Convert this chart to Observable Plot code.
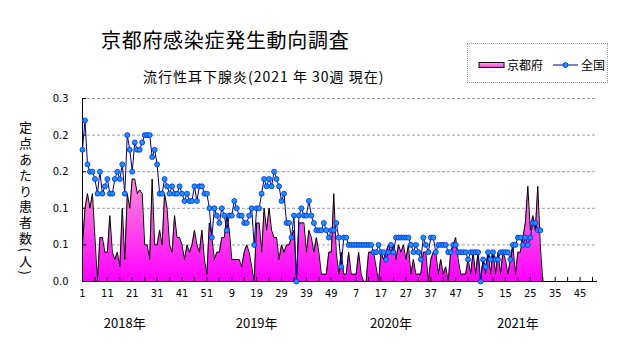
<!DOCTYPE html>
<html><head><meta charset="utf-8">
<script src="https://cdn.jsdelivr.net/npm/d3@7"></script>
<script src="https://cdn.jsdelivr.net/npm/@observablehq/plot@0.6"></script>
<style>
body{margin:0;background:#fff;}
#wrap{position:relative;width:631px;height:347px;overflow:hidden;background:#fff;font-family:"Noto Sans CJK JP",sans-serif;color:#000;}
#wrap > svg{position:absolute;left:0;top:0;}
.title{position:absolute;left:101px;top:28px;font-size:20px;letter-spacing:0.7px;line-height:24px;white-space:nowrap;}
.subtitle{position:absolute;left:143px;top:67px;font-size:14px;letter-spacing:1px;line-height:18px;white-space:nowrap;}
.ylab{position:absolute;left:18px;top:121px;writing-mode:vertical-rl;font-size:13px;letter-spacing:2.8px;line-height:15px;white-space:nowrap;}
.legend{position:absolute;left:467px;top:43px;width:141px;height:40px;border:1px dotted #999;box-sizing:border-box;}
.legend svg{position:absolute;left:0;top:0;}
</style></head>
<body>
<div id="wrap">
  <div class="title">京都府感染症発生動向調査</div>
  <div class="subtitle">流行性耳下腺炎(2021 年 30週 現在)</div>
  <div class="ylab">定点あたり患者数(人)</div>
  <div class="legend">
    <svg width="141" height="40">
      <defs><linearGradient id="lg" x1="0" y1="0" x2="0" y2="1"><stop offset="0" stop-color="#ffb0e4"/><stop offset="1" stop-color="#ff30f0"/></linearGradient></defs>
      <rect x="11" y="18.5" width="25" height="5" fill="url(#lg)" stroke="#000" stroke-width="1"/>
      <text x="39" y="25.5" font-size="12" font-family="Noto Sans CJK JP">京都府</text>
      <line x1="85" x2="110" y1="21" y2="21" stroke="#000080" stroke-width="1"/>
      <circle cx="97.5" cy="21" r="2.5" fill="#1e90ff" stroke="#0030e0" stroke-width="0.8"/>
      <text x="113" y="25.5" font-size="12" font-family="Noto Sans CJK JP">全国</text>
    </svg>
  </div>
</div>
<script>
// 京都府 定点あたり患者数 (2018 week1 .. 2021 week30)
const kyoto = [
0.05,0.10,0.12,0.10,0.12,0.06,0,0.06,0.06,0.04,
0.04,0.09,0.04,0.03,0.04,0.02,0.10,0.03,0.12,0.10,
0.14,0.14,0.12,0.125,0.12,0.05,0.05,0.03,0.14,0.05,
0.05,0.07,0.05,0.12,0.10,0.05,0.04,0.09,0.06,0.06,
0.05,0.03,0.05,0.04,0.05,0.07,0.05,0.04,0.07,0.03,
0.01,0.08,0.06,0.03,0.04,0.04,0.06,0.06,0.09,0.07,
0.03,0.03,0.03,0.03,0.02,0.04,0.05,0.04,0.02,0,
0.08,0.08,0.04,0.10,0.07,0.10,0.07,0.06,0.06,0.03,
0.05,0.04,0.05,0.05,0.06,0.07,0,0.08,0.08,0.08,
0.04,0.07,0.06,0.04,0.06,0.04,0.01,0.01,0.01,0.04,
0.04,0.12,0.04,0.01,0.04,0.01,0.01,0.04,0.01,0.01,
0.01,0.04,0.01,0,0,0.04,0.04,0.04,0.02,0,
0.04,0.03,0.04,0.05,0.04,0.05,0.03,0.05,0.04,0.05,
0.03,0.05,0.01,0.03,0.01,0.01,0.01,0.04,0.04,0,
0.03,0.04,0.04,0.01,0.03,0.01,0.02,0,0.04,0.05,
0.06,0.03,0.01,0.01,0.01,0.03,0.01,0.04,0.01,0.04,
0,0.03,0.01,0.04,0.01,0.04,0.01,0.04,0.01,0.04,
0.03,0.01,0.03,0.05,0.01,0.04,0.04,0.06,0.08,0.13,
0.07,0.09,0.07,0.13,0.05,0
];
// 全国 定点あたり患者数
const zenkoku = [
0.18,0.22,0.16,0.15,0.15,0.14,0.12,0.15,0.12,0.13,
0.14,0.12,0.12,0.14,0.15,0.14,0.16,0.12,0.20,0.18,
0.15,0.19,0.18,0.18,0.19,0.20,0.20,0.20,0.17,0.18,
0.16,0.12,0.12,0.14,0.13,0.12,0.13,0.12,0.12,0.13,
0.12,0.11,0.12,0.11,0.11,0.13,0.11,0.13,0.13,0.12,
0.12,0.10,0.06,0.10,0.09,0.08,0.10,0.09,0.07,0.09,
0.09,0.11,0.10,0.09,0.09,0.08,0.08,0.09,0.10,0.05,
0.10,0.10,0.12,0.14,0.13,0.14,0.13,0.15,0.14,0.13,
0.11,0.12,0.08,0.08,0.06,0.09,0,0.09,0.10,0.09,
0.09,0.11,0.09,0.08,0.07,0.07,0.07,0.08,0.07,0.06,
0.07,0.07,0.08,0.06,0.02,0.06,0.06,0.05,0.05,0.05,
0.05,0.05,0.05,0.05,0.05,0.05,0.05,0.04,0.04,0.05,
0.04,0.04,0.03,0.04,0.05,0.04,0.06,0.06,0.06,0.06,
0.06,0.06,0.05,0.04,0.05,0.04,0.03,0.06,0.05,0.04,
0.06,0.06,0.04,0.05,0.05,0.05,0.05,0.04,0.04,0.05,
0.05,0.04,0.04,0.04,0.04,0.03,0.04,0.04,0.04,0.04,
0,0.03,0.02,0.04,0.03,0.04,0.03,0.03,0.04,0.04,
0.04,0.04,0.03,0.05,0.05,0.06,0.06,0.05,0.06,0.05,
0.06,0.08,0.08,0.07,0.07
];
const totalWeeks = 208;
const weekTickLabels = ["1","11","21","31","41","51","9","19","29","39","49","7","17","27","37","47","5","15","25","35","45"];
const yTickValues = [0, 0.05, 0.10, 0.15, 0.20, 0.25];
const yTickLabels = ["0.0","0.1","0.1","0.2","0.2","0.3"];
const yearLabels = ["2018年","2019年","2020年","2021年"];
const yearLabelWeek = [17, 70, 124, 175];

const kData = kyoto.map((v, i) => ({i, v}));
const zData = zenkoku.map((v, i) => ({i, v}));
const weekTicks = weekTickLabels.map((t, k) => ({i: k * 10, t}));
const minorTicks = d3.range(0, totalWeeks, 5);
const yTicks = yTickValues.map((v, k) => ({v, t: yTickLabels[k]}));
const years = yearLabels.map((t, k) => ({i: yearLabelWeek[k], t}));

const defs = () => {
  const g = d3.create("svg:defs");
  const lg = g.append("linearGradient").attr("id", "pinkGrad")
    .attr("gradientUnits", "userSpaceOnUse").attr("x1", 0).attr("x2", 0).attr("y1", 98).attr("y2", 281);
  lg.append("stop").attr("offset", 0).attr("stop-color", "#ffd0ee");
  lg.append("stop").attr("offset", 0.45).attr("stop-color", "#ff8ad8");
  lg.append("stop").attr("offset", 1).attr("stop-color", "#ff00ff");
  return g.node();
};

const narrow = "'Liberation Sans Narrow','DejaVu Sans Condensed','Liberation Sans',sans-serif";

const chart = Plot.plot({
  width: 631, height: 347,
  marginLeft: 82, marginRight: 34, marginTop: 98, marginBottom: 66,
  style: {background: "transparent", overflow: "visible"},
  x: {domain: [0, totalWeeks - 1], axis: null},
  y: {domain: [0, 0.25], axis: null},
  marks: [
    defs,
    Plot.ruleY(yTickValues.slice(1), {stroke: "#9c9cae", strokeDasharray: "3,2", strokeWidth: 1}),
    Plot.areaY(kData, {x: "i", y: "v", fill: "url(#pinkGrad)"}),
    Plot.lineY(kData, {x: "i", y: "v", stroke: "#000", strokeWidth: 1}),
    Plot.ruleX(minorTicks, {y1: 0, y2: 0.0055, stroke: "#000"}),
    Plot.ruleY(yTickValues, {x1: 0, x2: 1.6, stroke: "#000"}),
    Plot.ruleX([0], {stroke: "#000"}),
    Plot.ruleY([0], {stroke: "#000"}),
    Plot.lineY(zData, {x: "i", y: "v", stroke: "#000080", strokeWidth: 1}),
    Plot.dot(zData, {x: "i", y: "v", r: 2.5, fill: "#1e90ff", stroke: "#0030e0", strokeWidth: 0.8}),
    Plot.text(yTicks, {x: 0, y: "v", text: "t", dx: -14, textAnchor: "end", fontSize: 11, fontFamily: narrow, fill: "#000"}),
    Plot.text(weekTicks, {x: "i", y: 0, text: "t", dy: 12, fontSize: 11, fontFamily: narrow, fill: "#000"}),
    Plot.text(years, {x: "i", y: 0, text: "t", dy: 42, fontSize: 13, fontFamily: "Noto Sans CJK JP", fill: "#000"})
  ]
});
document.getElementById("wrap").appendChild(chart);
</script>
</body></html>
